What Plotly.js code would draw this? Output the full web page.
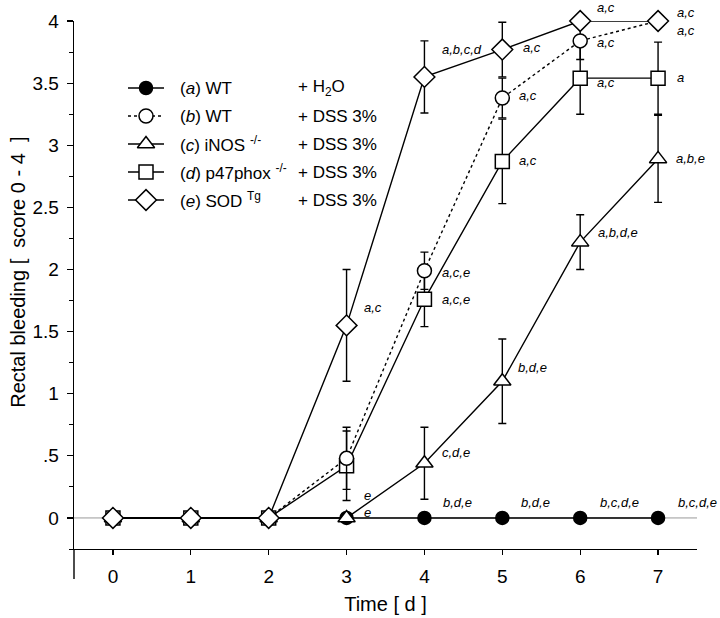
<!DOCTYPE html>
<html>
<head>
<meta charset="utf-8">
<script src="https://cdn.plot.ly/plotly-3.0.1.min.js"></script>
<style>body{margin:0;background:#fff}#chart{width:720px;height:618px}</style>
</head>
<body>
<div id="chart"></div>
<script>
// ---- data ----
const days = [0, 1, 2, 3, 4, 5, 6, 7];
const wtH2O      = [0, 0, 0, 0, 0, 0, 0, 0];
const wtDSS      = [0, 0, 0, 0.48, 1.99, 3.38, 3.84, 4.0];
const wtDSSErr   = [0, 0, 0, 0.25, 0.15, 0.16, 0.15, 0];
const inosDSS    = [0, 0, 0, 0, 0.44, 1.1, 2.22, 2.89];
const inosDSSErr = [0, 0, 0, 0, 0.29, 0.34, 0.22, 0.35];
const p47DSS     = [0, 0, 0, 0.42, 1.76, 2.87, 3.54, 3.54];
const p47DSSErr  = [0, 0, 0, 0.28, 0.22, 0.34, 0.29, 0.29];
const sodDSS     = [0, 0, 0, 1.55, 3.55, 3.77, 4.0, 4.0];
const sodDSSErr  = [0, 0, 0, 0.45, 0.29, 0.22, 0, 0];

const yTickVals = [0, 0.5, 1, 1.5, 2, 2.5, 3, 3.5, 4];
const yTickText = ['0', '.5', '1', '1.5', '2', '2.5', '3', '3.5', '4'];

// significance labels: [day, value, text, dx(px), dy(px)]
const sigLabels = [
  [3, 1.55, 'a,c', 26, -18],
  [4, 3.55, 'a,b,c,d', 38, -27],
  [5, 3.77, 'a,c', 30, -2],
  [6, 4.0, 'a,c', 26, -14],
  [7, 4.0, 'a,c', 28, -9],
  [7, 4.0, 'a,c', 28, 9],
  [6, 3.84, 'a,c', 26, 2],
  [5, 3.38, 'a,c', 26, -3],
  [6, 3.54, 'a,c', 26, 4],
  [7, 3.54, 'a', 22, -1],
  [5, 2.87, 'a,c', 26, -1],
  [7, 2.89, 'a,b,e', 32, 0],
  [6, 2.22, 'a,b,d,e', 38, -10],
  [4, 1.99, 'a,c,e', 32, 2],
  [4, 1.76, 'a,c,e', 32, 0],
  [5, 1.1, 'b,d,e', 30, -14],
  [4, 0.44, 'c,d,e', 32, -11],
  [3, 0, 'e', 21, -22],
  [3, 0, 'e', 21, -5],
  [4, 0, 'b,d,e', 33, -15],
  [5, 0, 'b,d,e', 33, -15],
  [6, 0, 'b,c,d,e', 39, -15],
  [7, 0, 'b,c,d,e', 39, -15]
];

// legend entries
const legNames = ['(<i>a</i>) WT', '(<i>b</i>) WT', '(<i>c</i>) iNOS <sup>-/-</sup>', '(<i>d</i>) p47phox <sup>-/-</sup>', '(<i>e</i>) SOD <sup>Tg</sup>'];
const legTreat = ['+ H<sub>2</sub>O', '+ DSS 3%', '+ DSS 3%', '+ DSS 3%', '+ DSS 3%'];

// ---- styles ----
const FONT = 'Liberation Sans, Arial, sans-serif';
const NB = '\u00A0';
const styles = [
  {symbol: 'circle', fill: '#000', dash: 'solid', size: 13},
  {symbol: 'circle', fill: '#fff', dash: 'dot', size: 14},
  {symbol: 'triangle-up', fill: '#fff', dash: 'solid', size: 15},
  {symbol: 'square', fill: '#fff', dash: 'solid', size: 14},
  {symbol: 'diamond', fill: '#fff', dash: 'solid', size: 16}
];
const seriesY = [wtH2O, wtDSS, inosDSS, p47DSS, sodDSS];
const seriesE = [null, wtDSSErr, inosDSSErr, p47DSSErr, sodDSSErr];

const traces = [];
const order = [0, 2, 3, 1, 4];
order.forEach(i => {
  const st = styles[i];
  const t = {
    x: days, y: seriesY[i], type: 'scatter', mode: 'lines+markers',
    line: {color: '#000', width: 1.4, dash: st.dash},
    marker: {symbol: st.symbol, size: st.size, color: st.fill, line: {color: '#000', width: 1.5}},
    showlegend: false, hoverinfo: 'skip', cliponaxis: false
  };
  if (seriesE[i]) t.error_y = {type: 'data', array: seriesE[i], visible: true, color: '#000', thickness: 1.4, width: 4};
  traces.push(t);
});

// legend keys on overlay pixel axes
const legRowY = [88, 116, 144, 172, 200];
for (let i = 0; i < 5; i++) {
  const st = styles[i];
  traces.push({
    x: [128, 146, 164], y: [legRowY[i], legRowY[i], legRowY[i]], xaxis: 'x2', yaxis: 'y2',
    type: 'scatter', mode: 'lines', line: {color: '#000', width: 1.4, dash: st.dash},
    showlegend: false, hoverinfo: 'skip'
  });
  traces.push({
    x: [146], y: [legRowY[i]], xaxis: 'x2', yaxis: 'y2', type: 'scatter', mode: 'markers',
    marker: {symbol: st.symbol, size: st.size, color: st.fill, line: {color: '#000', width: 1.5}},
    showlegend: false, hoverinfo: 'skip'
  });
}

const annotations = [];
sigLabels.forEach(s => {
  annotations.push({x: s[0], y: s[1], xref: 'x', yref: 'y', text: '<i>' + s[2] + '</i>', showarrow: false,
    xshift: s[3], yshift: -s[4], font: {family: FONT, size: 13, color: '#000'}});
});
for (let i = 0; i < 5; i++) {
  annotations.push({x: 178, y: legRowY[i], xref: 'x2', yref: 'y2', text: legNames[i], showarrow: false,
    xanchor: 'left', yanchor: 'middle', font: {family: FONT, size: 17, color: '#000'}});
  annotations.push({x: 296, y: legRowY[i], xref: 'x2', yref: 'y2', text: legTreat[i], showarrow: false,
    xanchor: 'left', yanchor: 'middle', font: {family: FONT, size: 17, color: '#000'}});
}

// y-axis title (placed as rotated text, as in the original figure)
const yTitle = 'Rectal bleeding [' + NB + NB + 'score 0 - 4' + NB + NB + ']';
annotations.push({x: -0.0899, y: 0.525, xref: 'paper', yref: 'paper', text: yTitle, textangle: -90,
  showarrow: false, xanchor: 'center', yanchor: 'middle', font: {family: FONT, size: 20, color: '#000'}});

const layout = {
  width: 720, height: 618,
  margin: {l: 74, r: 23, t: 21, b: 69},
  paper_bgcolor: '#fff', plot_bgcolor: 'rgba(0,0,0,0)',
  font: {family: FONT, color: '#000'},
  showlegend: false,
  xaxis: {
    range: [-0.5, 7.5], tickvals: days, ticks: 'outside', ticklen: 5, tickwidth: 1.2, tickcolor: '#000',
    showline: true, linecolor: '#000', linewidth: 1.4, showgrid: false, zeroline: false,
    tickfont: {family: FONT, size: 19}, ticklabelstandoff: 5,
    title: {text: 'Time [ d ]', font: {family: FONT, size: 20}, standoff: 10}
  },
  yaxis: {
    range: [-0.25, 4], tickmode: 'array', tickvals: yTickVals, ticktext: yTickText,
    ticks: 'outside', ticklen: 6, tickwidth: 1.2, tickcolor: '#000',
    minor: {tick0: 0, dtick: 0.25, ticks: 'outside', ticklen: 4, tickcolor: '#000', tickwidth: 1},
    showline: true, linecolor: '#000', linewidth: 1.4, showgrid: false, zeroline: false,
    tickfont: {family: FONT, size: 19}, ticklabelstandoff: 4
  },
  xaxis2: {overlaying: 'x', range: [74, 697], visible: false, fixedrange: true},
  yaxis2: {overlaying: 'y', range: [549, 21], visible: false, fixedrange: true},
  shapes: [
    {type: 'line', xref: 'paper', yref: 'y', x0: 0, x1: 1, y0: 0, y1: 0, line: {color: '#999', width: 1}, layer: 'below'},
    {type: 'line', xref: 'paper', yref: 'paper', x0: 0, x1: 0, y0: 0, y1: -0.057, line: {color: '#000', width: 1.4}}
  ],
  annotations: annotations
};

Plotly.newPlot('chart', traces, layout, {staticPlot: true, displayModeBar: false});
</script>
</body>
</html>
